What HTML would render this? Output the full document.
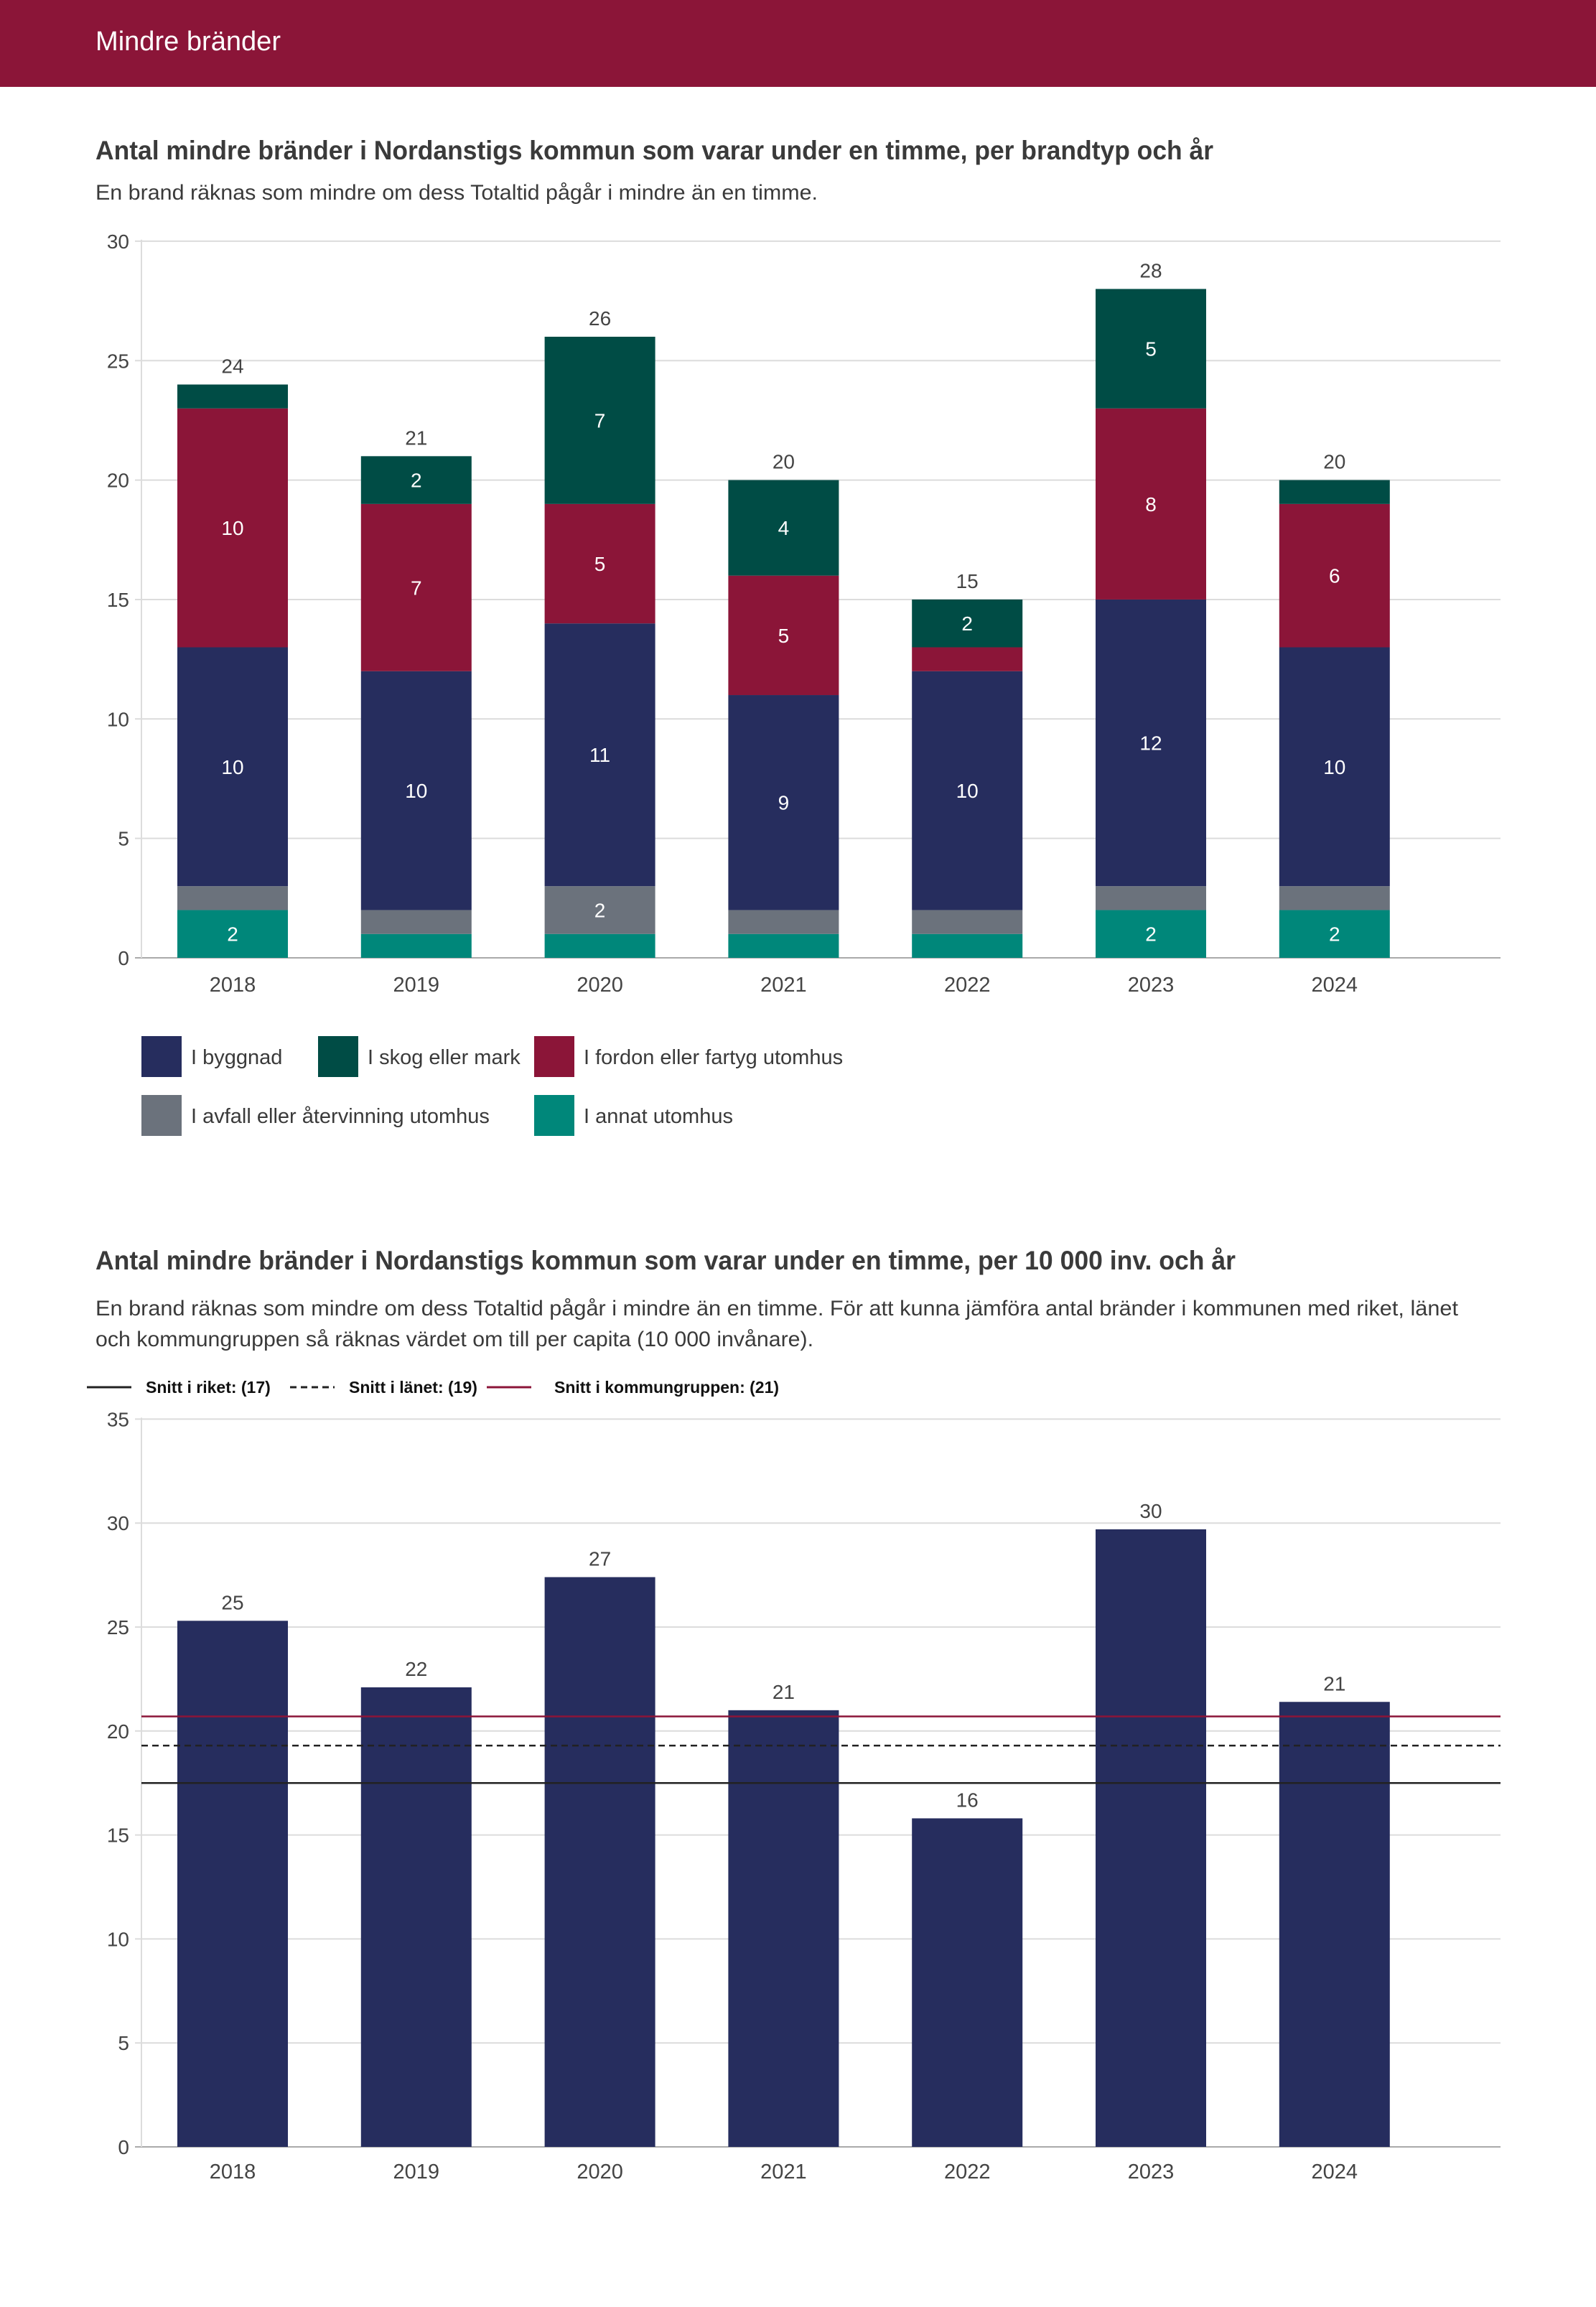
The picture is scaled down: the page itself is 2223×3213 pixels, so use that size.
<!DOCTYPE html>
<html><head><meta charset="utf-8"><style>
html,body{margin:0;padding:0;background:#fff;}
svg{display:block;font-family:"Liberation Sans",sans-serif;}
</style></head><body>
<svg id="page" width="2223" height="3213" viewBox="0 0 2223 3213" xmlns="http://www.w3.org/2000/svg">
<rect x="0" y="0" width="2223" height="121" fill="#8b1538"/>
<text x="133" y="70" font-size="38" fill="#fff" textLength="258" lengthAdjust="spacingAndGlyphs">Mindre bränder</text>
<text x="133" y="222" font-size="37" fill="#3a3a3a" font-weight="bold" textLength="1557" lengthAdjust="spacingAndGlyphs">Antal mindre bränder i Nordanstigs kommun som varar under en timme, per brandtyp och år</text>
<text x="133" y="278" font-size="30" fill="#3a3a3a" textLength="1006" lengthAdjust="spacingAndGlyphs">En brand räknas som mindre om dess Totaltid pågår i mindre än en timme.</text>
<g id="c1"></g>
<g id="leg1"></g>
<text x="133" y="1768" font-size="37" fill="#3a3a3a" font-weight="bold" textLength="1588" lengthAdjust="spacingAndGlyphs">Antal mindre bränder i Nordanstigs kommun som varar under en timme, per 10 000 inv. och år</text>
<text x="133" y="1832" font-size="30" fill="#3a3a3a" textLength="1898" lengthAdjust="spacingAndGlyphs">En brand räknas som mindre om dess Totaltid pågår i mindre än en timme. För att kunna jämföra antal bränder i kommunen med riket, länet</text>
<text x="133" y="1875" font-size="30" fill="#3a3a3a" textLength="1000" lengthAdjust="spacingAndGlyphs">och kommungruppen så räknas värdet om till per capita (10 000 invånare).</text>
<g id="leg2"></g>
<g id="c2"></g>
</svg>
<script>
const NS="http://www.w3.org/2000/svg";
const years=["2018","2019","2020","2021","2022","2023","2024"];
const seriesNames=["I annat utomhus","I avfall eller återvinning utomhus","I byggnad","I fordon eller fartyg utomhus","I skog eller mark"];
const seriesColors=["#00877a","#6b727c","#262d5e","#8b1538","#004c45"];
const annat=[2,1,1,1,1,2,2];
const avfall=[1,1,2,1,1,1,1];
const byggnad=[10,10,11,9,10,12,10];
const fordon=[10,7,5,5,1,8,6];
const skog=[1,2,7,4,2,5,1];
const ticks1=[0,5,10,15,20,25,30];
const perCapita=[25.3,22.1,27.4,21.0,15.8,29.7,21.4];
const perCapitaLabels=["25","22","27","21","16","30","21"];
const ticks2=[0,5,10,15,20,25,30,35];
const refNames=["Snitt i riket: (17)","Snitt i länet: (19)","Snitt i kommungruppen: (21)"];
const refValues=[17.5,19.3,20.7];

function mk(parent,tag,attrs,text){const e=document.createElementNS(NS,tag);for(const k in attrs)e.setAttribute(k,attrs[k]);if(text!==undefined)e.textContent=text;parent.appendChild(e);return e;}
const xc=i=>324+i*255.8;
const BW=154;

// Chart 1
const c1=document.getElementById('c1');
const y1=v=>1334-v*33.27;
ticks1.forEach(t=>{
  const l=mk(c1,'line',{x1:188,x2:2090,y1:y1(t),y2:y1(t),stroke:t===0?'#aaa':'#dcdcdc','stroke-width':2});
  
  
  const tx=mk(c1,'text',{x:180,y:y1(t)+10,'font-size':28,fill:'#444','text-anchor':'end'},String(t));
  
  
});
mk(c1,'line',{x1:197,x2:197,y1:y1(30)-2,y2:y1(0),stroke:'#dcdcdc','stroke-width':2});
const stacks=[annat,avfall,byggnad,fordon,skog];
years.forEach((yr,i)=>{
  let base=0;
  stacks.forEach((s,k)=>{
    const v=s[i];
    const r=mk(c1,'rect',{x:xc(i)-BW/2,y:y1(base+v),width:BW,height:y1(base)-y1(base+v),fill:seriesColors[k]});
    
    
    if(v>=2){
      const t=mk(c1,'text',{x:xc(i),y:(y1(base)+y1(base+v))/2+10,'font-size':28,fill:'#fff','text-anchor':'middle'},String(v));
      
      
    }
    base+=v;
  });
  const tt=mk(c1,'text',{x:xc(i),y:y1(base)-16,'font-size':28,fill:'#444','text-anchor':'middle'},String(base));
  
  
  const xl=mk(c1,'text',{x:xc(i),y:1381,'font-size':29,fill:'#444','text-anchor':'middle'},yr);
  
  
});
// Legend 1
const leg1=document.getElementById('leg1');
const legOrder=[[2,197,1443],[4,443,1443],[3,744,1443],[1,197,1525],[0,744,1525]];
legOrder.forEach(([k,x,y])=>{
  const r=mk(leg1,'rect',{x:x,y:y,width:56,height:57,fill:seriesColors[k]});
  
  
  const t=mk(leg1,'text',{x:x+69,y:y+39,'font-size':29,fill:'#3a3a3a'},seriesNames[k]);
  
  
});

// Legend 2
const leg2=document.getElementById('leg2');
const legX=[[121,203],[404,486],[678,772]];
const refStyles=[{stroke:'#222'},{stroke:'#222','stroke-dasharray':'9,6'},{stroke:'#8b1538'}];
refNames.forEach((n,i)=>{
  const l=mk(leg2,'line',Object.assign({x1:legX[i][0],x2:legX[i][0]+62,y1:1932,y2:1932,'stroke-width':3},refStyles[i]));
  
  
  const t=mk(leg2,'text',{x:legX[i][1],y:1940,'font-size':23,fill:'#111','font-weight':'bold'},n);
  
  
});

// Chart 2
const c2=document.getElementById('c2');
const y2=v=>2990-v*28.96;
ticks2.forEach(t=>{
  const l=mk(c2,'line',{x1:188,x2:2090,y1:y2(t),y2:y2(t),stroke:t===0?'#aaa':'#dcdcdc','stroke-width':2});
  
  
  const tx=mk(c2,'text',{x:180,y:y2(t)+10,'font-size':28,fill:'#444','text-anchor':'end'},String(t));
  
  
});
mk(c2,'line',{x1:197,x2:197,y1:y2(35)-2,y2:y2(0),stroke:'#dcdcdc','stroke-width':2});
years.forEach((yr,i)=>{
  const v=perCapita[i];
  const r=mk(c2,'rect',{x:xc(i)-BW/2,y:y2(v),width:BW,height:y2(0)-y2(v),fill:'#262d5e'});
  
  
  const t=mk(c2,'text',{x:xc(i),y:y2(v)-16,'font-size':28,fill:'#444','text-anchor':'middle'},perCapitaLabels[i]);
  
  
  const xl=mk(c2,'text',{x:xc(i),y:3034,'font-size':29,fill:'#444','text-anchor':'middle'},yr);
  
  
});
refValues.forEach((v,i)=>{
  const l=mk(c2,'line',Object.assign({x1:197,x2:2090,y1:y2(v),y2:y2(v),'stroke-width':2.5},refStyles[i]));
  
  
});
</script>
</body></html>
